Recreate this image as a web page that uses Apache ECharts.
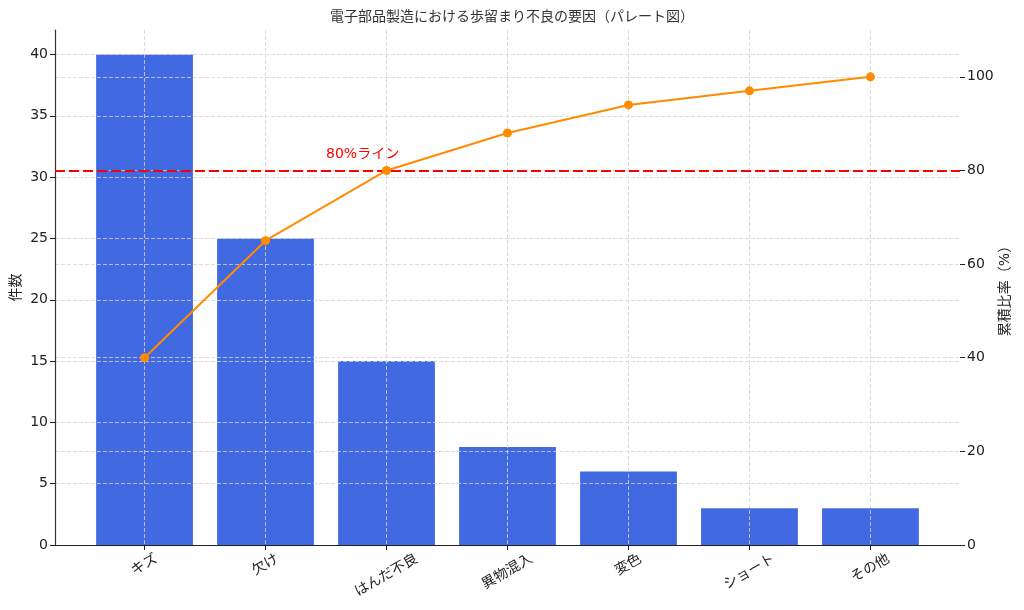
<!DOCTYPE html>
<html>
<head>
<meta charset="utf-8">
<script src="https://cdn.jsdelivr.net/npm/echarts@6/dist/echarts.min.js"></script>
<style>
  html, body { margin: 0; padding: 0; background: #fff; }
  #chart { width: 1024px; height: 610px; }
</style>
</head>
<body>
<div id="chart"></div>
<script>
// Defect categories and counts
const categories = ['キズ', '欠け', 'はんだ不良', '異物混入', '変色', 'ショート', 'その他'];
const defectCounts = [40, 25, 15, 8, 6, 3, 3];
const cumulativePercent = [40, 65, 80, 88, 94, 97, 100];

// Tick labels
const countTicks = [0, 5, 10, 15, 20, 25, 30, 35, 40];
const percentTicks = [0, 20, 40, 60, 80, 100];

// 80% threshold annotation
const thresholdPercent = 80;
const thresholdText = '80%ライン';
const thresholdTextAt = [1.5, 82];

const FONT = '"DejaVu Sans", "Noto Sans CJK JP", sans-serif';
const TEXT_COLOR = '#222';
const GRID = { left: 55, right: 64, top: 30, bottom: 65 };
const X_MIN = -0.74;
const X_MAX = 6.74;
const LABEL_SIZE = 14;

const plotWidth = 1024 - GRID.left - GRID.right;
const barWidth = 0.8 * plotWidth / (X_MAX - X_MIN);
const categoryIndex = categories.map((_, i) => i);

/**
 * Per-label padding so rotated labels sit centred under their tick,
 * the way matplotlib places them.
 */
const labelRich = {};
categories.forEach((name, i) => {
    const shift = name.length * LABEL_SIZE / 4;
    labelRich['c' + i] = {
        fontFamily: FONT,
        fontSize: LABEL_SIZE,
        color: TEXT_COLOR,
        padding: [shift * 1.732, shift, 0, 0],
    };
});

const gridLine = {
    show: true,
    lineStyle: { color: '#d4d4d4', type: [4, 2], width: 0.8 },
};

const chart = echarts.init(document.getElementById('chart'));
window.addEventListener('resize', chart.resize);

chart.setOption({
    animation: false,
    backgroundColor: '#fff',
    textStyle: { fontFamily: FONT },
    title: {
        text: '電子部品製造における歩留まり不良の要因（パレート図）',
        left: 507,
        top: 5,
        textAlign: 'center',
        textStyle: { fontFamily: FONT, fontSize: 14, fontWeight: 'normal', color: '#333' },
    },
    grid: Object.assign({ outerBoundsMode: 'none', containLabel: false }, GRID),
    xAxis: {
        type: 'value',
        min: X_MIN,
        max: X_MAX,
        z: 2,
        axisLine: { show: true, onZero: false, lineStyle: { color: TEXT_COLOR, width: 1.2 } },
        axisTick: { show: true, customValues: categoryIndex, length: 5, lineStyle: { color: TEXT_COLOR } },
        axisLabel: {
            customValues: categoryIndex,
            rotate: 30,
            align: 'center',
            verticalAlign: 'middle',
            margin: 13,
            formatter: (v) => `{c${v}|${categories[v]}}`,
            rich: labelRich,
        },
        splitLine: gridLine,
    },
    yAxis: [
        {
            type: 'value',
            min: 0,
            max: 42,
            z: 2,
            name: '件数',
            nameLocation: 'middle',
            nameRotate: 90,
            nameGap: 32,
            nameMoveOverlap: false,
            nameTextStyle: { fontFamily: FONT, fontSize: LABEL_SIZE, color: TEXT_COLOR },
            axisLine: { show: true, onZero: false, lineStyle: { color: '#333', width: 1.2 } },
            axisTick: { show: true, customValues: countTicks, length: 5, lineStyle: { color: TEXT_COLOR } },
            axisLabel: { customValues: countTicks, margin: 7, fontSize: LABEL_SIZE, color: TEXT_COLOR },
            splitLine: gridLine,
        },
        {
            type: 'value',
            position: 'right',
            min: 0,
            max: 110,
            z: 2,
            name: '累積比率（%）',
            nameLocation: 'middle',
            nameRotate: 90,
            nameGap: 38,
            nameMoveOverlap: false,
            nameTextStyle: { fontFamily: FONT, fontSize: LABEL_SIZE, color: TEXT_COLOR },
            axisLine: { show: false, onZero: false },
            axisTick: { show: true, customValues: percentTicks, length: 5, lineStyle: { color: TEXT_COLOR } },
            axisLabel: { customValues: percentTicks, margin: 7, fontSize: LABEL_SIZE, color: TEXT_COLOR },
            splitLine: gridLine,
        },
    ],
    series: [
        {
            name: '件数',
            type: 'bar',
            z: 1,
            barWidth: barWidth,
            itemStyle: { color: '#4169E1' },
            data: defectCounts.map((v, i) => [i, v]),
        },
        {
            name: '累積比率',
            type: 'line',
            yAxisIndex: 1,
            z: 5,
            symbol: 'circle',
            symbolSize: 9,
            itemStyle: { color: '#FF8C00' },
            lineStyle: { color: '#FF8C00', width: 2 },
            data: cumulativePercent.map((v, i) => [i, v]),
            markLine: {
                silent: true,
                symbol: 'none',
                label: { show: false },
                lineStyle: { color: '#FF0000', type: [10, 4], width: 2 },
                data: [{ yAxis: thresholdPercent }],
            },
            markPoint: {
                silent: true,
                symbolSize: 0,
                label: {
                    show: true,
                    formatter: thresholdText,
                    position: [0, 0],
                    align: 'left',
                    verticalAlign: 'bottom',
                    fontFamily: FONT,
                    fontSize: LABEL_SIZE,
                    color: '#FF0000',
                },
                data: [{ coord: thresholdTextAt }],
            },
        },
    ],
});
</script>
</body>
</html>
